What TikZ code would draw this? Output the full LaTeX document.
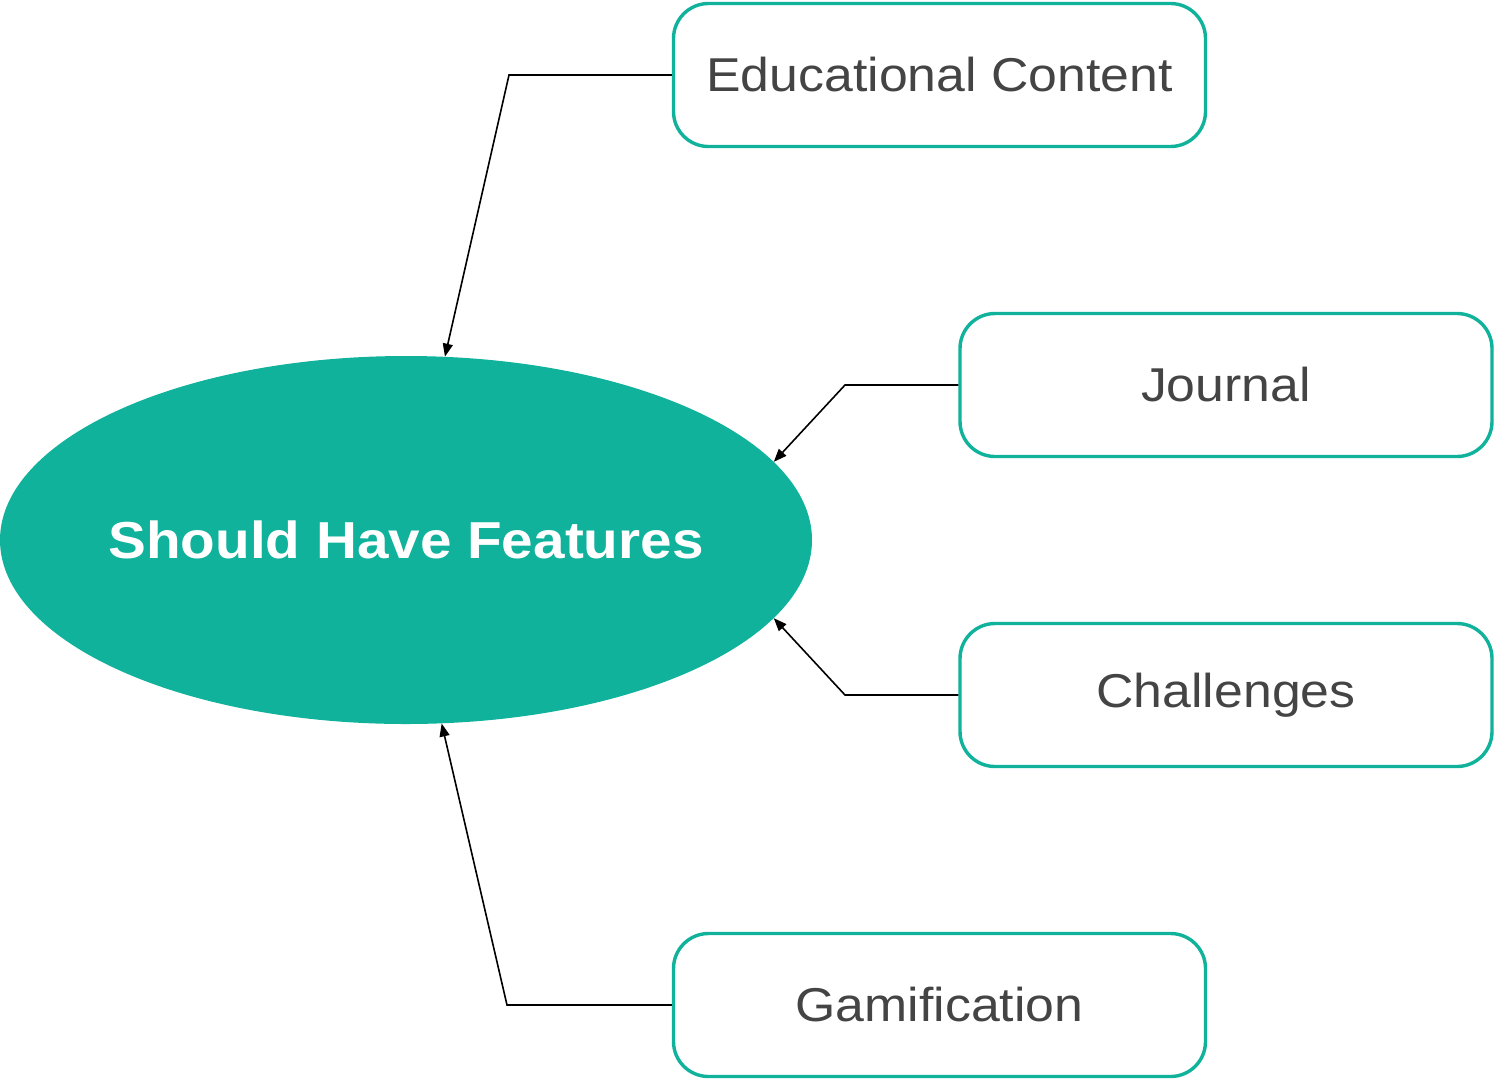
\documentclass[tikz,border=0pt]{standalone}
\usepackage{fontspec}
\setmainfont[FakeStretch=1.09]{Liberation Sans}
\usetikzlibrary{shapes.geometric,arrows.meta}
\definecolor{teal1}{RGB}{16,178,155}
\definecolor{txtgray}{RGB}{68,68,68}
\tikzset{
  featbox/.style={draw=teal1, line width=3.4pt, rounded corners=35pt, fill=white,
    minimum width=532pt, minimum height=143pt, inner sep=0pt,
    text=txtgray, font=\fontsize{47.5}{56}\selectfont},
  conn/.style={draw=black, line width=1.6pt, -{Triangle[length=13pt,width=10pt]}},
}
\begin{document}
\begin{tikzpicture}[x=1pt,y=-1pt]
\useasboundingbox (0,0) rectangle (1496,1080);
\node[ellipse, fill=teal1, minimum width=812pt, minimum height=368pt, inner ysep=0pt, inner xsep=-40pt,
  text=white, font=\bfseries\fontsize{52}{64}\selectfont] (ell) at (406,540) {Should Have Features};
\node[featbox] (edu) at (939.5,75) {Educational Content};
\node[featbox] (jou) at (1226,385) {Journal};
\node[featbox] (cha) at (1226,695) {Challenges};
\node[featbox] (gam) at (939.5,1005) {Gamification};
\coordinate (b1) at (509,75);
\coordinate (b2) at (845,385);
\coordinate (b3) at (845,695);
\coordinate (b4) at (507,1005);
\draw[conn] (edu.west) -- (b1) -- (ell.78.6);
\draw[conn] (jou.west) -- (b2) -- (ell.12);
\draw[conn] (cha.west) -- (b3) -- (ell.-12);
\draw[conn] (gam.west) -- (b4) -- (ell.-79);
\end{tikzpicture}
\end{document}
